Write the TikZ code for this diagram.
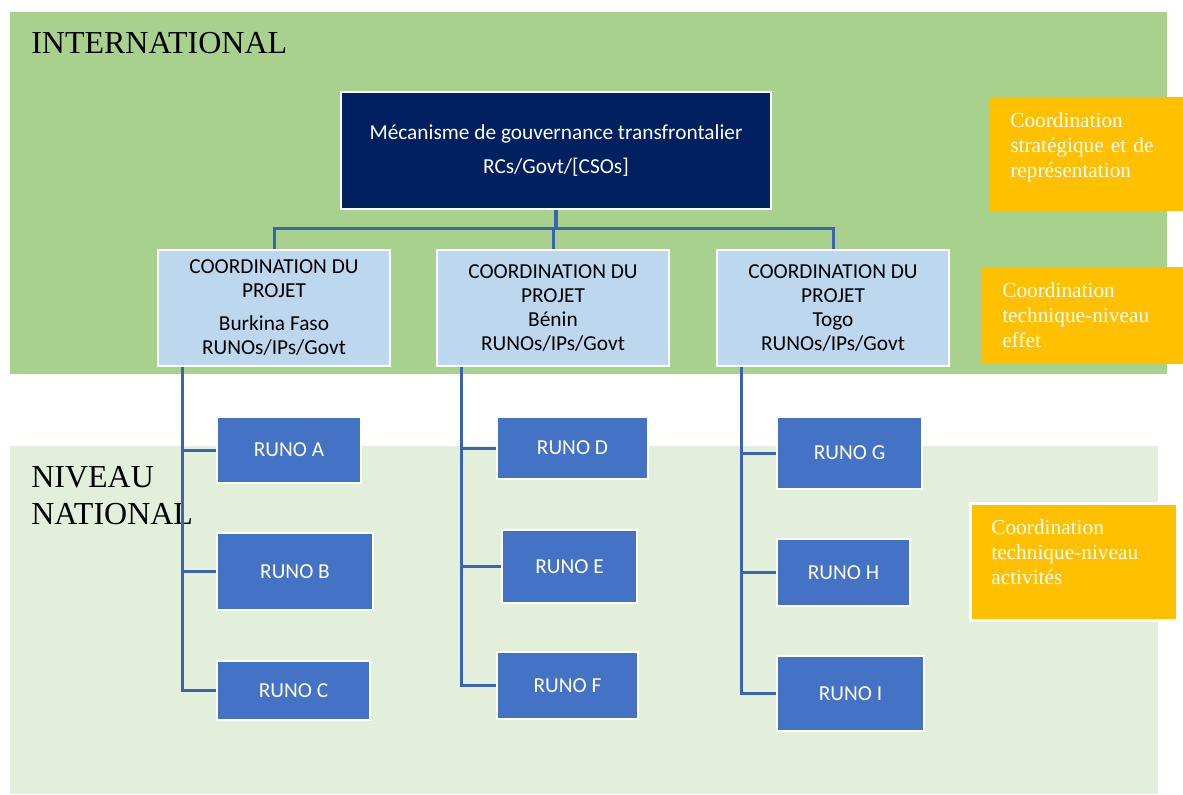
\documentclass[tikz,border=0pt]{standalone}
\usepackage{fontspec}
\setmainfont{Liberation Serif}
\newfontfamily\calibri{Carlito}

\definecolor{intlgreen}{HTML}{A9D18E}
\definecolor{natgreen}{HTML}{E2EFDA}
\definecolor{govnavy}{HTML}{002060}
\definecolor{projblue}{HTML}{BDD7EE}
\definecolor{runoblue}{HTML}{4472C4}
\definecolor{linkblue}{HTML}{3C63B2}
\definecolor{notegold}{HTML}{FFC000}

\tikzset{
  dims/.style 2 args={minimum width=#1*0.75pt, minimum height=#2*0.75pt},
  boxfont/.style={font=\calibri\fontsize{16}{18}\selectfont},
  govbox/.style={boxfont, fill=govnavy, draw=white, line width=1.5pt, text=white, align=center},
  projbox/.style={boxfont, fill=projblue, draw=white, line width=1.5pt, align=center},
  runobox/.style={boxfont, fill=runoblue, draw=white, line width=1.5pt, text=white},
  notebox/.style={fill=notegold, text=white, align=left, anchor=north west, inner xsep=15pt, inner ysep=0pt, font=\fontsize{16}{18.75}\selectfont},
  link/.style={draw=linkblue, line width=2.25pt},
  level/.style={anchor=base west, align=left, inner sep=0pt, font=\fontsize{24}{27.75}\selectfont}
}

\begin{document}
\begin{tikzpicture}[x=0.75pt,y=-0.75pt]

\useasboundingbox (0,0) rectangle (1183,794);

\fill[intlgreen] (10,12) rectangle (1167,374);

\fill[natgreen] (10,446) rectangle (1158,794);

\node [level] (intl) at (31,53) {INTERNATIONAL};
\node [level] (natl) at (31,524) {NIVEAU\\NATIONAL};

\node [govbox, dims={430}{117}] (gov) at (556,150.5) {Mécanisme de gouvernance transfrontalier\\[7.5pt]RCs/Govt/[CSOs]};

\node [projbox, dims={232}{116}] (bf) at (274,308) {COORDINATION DU\\PROJET\\[6.75pt]Burkina Faso\\RUNOs/IPs/Govt};
\node [projbox, dims={232}{116}] (bj) at (553,308) {COORDINATION DU\\PROJET\\Bénin\\RUNOs/IPs/Govt};
\node [projbox, dims={232}{116}] (tg) at (833,308) {COORDINATION DU\\PROJET\\Togo\\RUNOs/IPs/Govt};

\node [runobox, dims={144}{66}] (runoA) at (289,450) {RUNO A};
\node [runobox, dims={156}{77}] (runoB) at (295,571.5) {RUNO B};
\node [runobox, dims={153}{59}] (runoC) at (293.5,690.5) {RUNO C};

\node [runobox, dims={151}{62}] (runoD) at (572.5,448) {RUNO D};
\node [runobox, dims={135}{73}] (runoE) at (569.5,566.5) {RUNO E};
\node [runobox, dims={141}{67}] (runoF) at (567.5,685.5) {RUNO F};

\node [runobox, dims={145}{72}] (runoG) at (849.5,453) {RUNO G};
\node [runobox, dims={133}{67}] (runoH) at (843.5,572.5) {RUNO H};
\node [runobox, dims={147}{75}] (runoI) at (850.5,693.5) {RUNO I};

\node [notebox, text width=114.75pt, text height=22.5pt, text depth=63pt] (strat) at (990,97) {Coordination\\stratégique et de\\représentation};
\node [notebox, text width=120.75pt, text height=22.5pt, text depth=50.25pt] (effet) at (982,267) {Coordination\\technique-niveau\\effet};
\node [notebox, draw=white, line width=2pt, inner xsep=15.75pt, text width=123.75pt, text height=23.25pt, text depth=64.5pt] (activ) at (969,502) {Coordination\\technique-niveau\\activités};

\draw[link, line width=3.5pt] (gov.south) -- ++(0,18) coordinate (bus);
\draw[link] (bus) -| (bf.north);
\draw[link] (bus) -| (bj.north);
\draw[link] (bus) -| (tg.north);

\draw[link] ([xshift=-68.5pt]bf.south) coordinate (t1) |- (runoC);
\draw[link] (t1) |- (runoA);
\draw[link] (t1) |- (runoB);

\draw[link] ([xshift=-68.5pt]bj.south) coordinate (t2) |- (runoF);
\draw[link] (t2) |- (runoD);
\draw[link] (t2) |- (runoE);

\draw[link] ([xshift=-69pt]tg.south) coordinate (t3) |- (runoI);
\draw[link] (t3) |- (runoG);
\draw[link] (t3) |- (runoH);

\end{tikzpicture}
\end{document}
